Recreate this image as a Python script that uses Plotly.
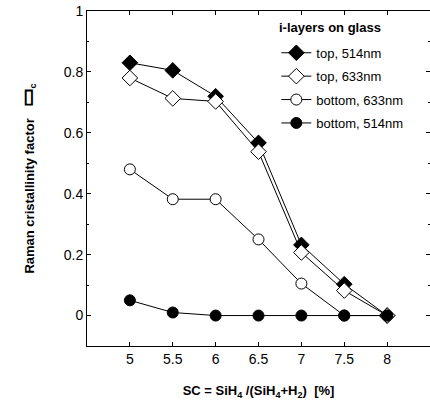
import plotly.graph_objects as go

sc = [5, 5.5, 6, 6.5, 7, 7.5, 8]
top_514 = [0.83, 0.805, 0.72, 0.567, 0.232, 0.103, 0.0]
top_633 = [0.78, 0.713, 0.703, 0.538, 0.207, 0.082, 0.0]
bottom_633 = [0.48, 0.382, 0.382, 0.25, 0.105, 0.0, 0.0]
bottom_514 = [0.05, 0.01, 0.0, 0.0, 0.0, 0.0, 0.0]
y_ticks = [0, 0.2, 0.4, 0.6, 0.8, 1]
x_ticks = [5, 5.5, 6, 6.5, 7, 7.5, 8]

series = [
    ("top, 514nm", top_514, "diamond", "black", 12),
    ("top, 633nm", top_633, "diamond", "white", 12),
    ("bottom, 633nm", bottom_633, "circle", "white", 11),
    ("bottom, 514nm", bottom_514, "circle", "black", 11),
]

fig = go.Figure()
for i, (name, ys, sym, fill, size) in enumerate(series):
    fig.add_trace(go.Scatter(
        x=sc, y=ys, name=name, mode="lines+markers", legendgroup=f"g{i}",
        line=dict(color="black", width=1),
        marker=dict(symbol=sym, size=size, color=fill,
                    line=dict(color="black", width=1)),
        cliponaxis=False,
    ))

font = "Liberation Sans, Arial, sans-serif"
fig.add_annotation(
    text="<b>i-layers on glass</b>", xref="paper", yref="paper",
    x=0.553, y=0.95, xanchor="left", yanchor="middle", showarrow=False,
    font=dict(size=13),
)
fig.update_layout(
    width=430, height=400,
    margin=dict(l=87, r=0, t=11, b=54),
    paper_bgcolor="white", plot_bgcolor="white",
    font=dict(family=font, size=13, color="black"),
    showlegend=True,
    legend=dict(
        x=0.552, y=0.92, xanchor="left", yanchor="top",
        bgcolor="rgba(0,0,0,0)",
        font=dict(size=13), tracegroupgap=3.5, itemwidth=30,
    ),
    xaxis=dict(
        range=[4.5, 8.5], tickvals=x_ticks, ticktext=[str(v) for v in x_ticks],
        ticks="inside", ticklen=4, tickcolor="black", showgrid=False,
        zeroline=False, showline=True, linecolor="black", linewidth=1,
        mirror="allticks", tickfont=dict(size=14),
        title=dict(text="<b>SC = SiH<sub>4</sub> /(SiH<sub>4</sub>+H<sub>2</sub>)  [%]</b>",
                   font=dict(size=13), standoff=20),
    ),
    yaxis=dict(
        range=[-0.1, 1], tickvals=y_ticks,
        ticks="inside", ticklen=4, tickcolor="black", showgrid=False,
        zeroline=False, showline=True, linecolor="black", linewidth=1,
        mirror="allticks", tickfont=dict(size=14),
        minor=dict(ticks="inside", dtick=0.1, tick0=0, ticklen=2, tickcolor="black"),
        title=dict(text="<b>Raman cristallinity factor   <span style='font-size:20px'>\u25ad</span><sub>c</sub></b>",
                   font=dict(size=13), standoff=26),
    ),
)

fig.write_html("out.html", config={"displayModeBar": False},
               post_script="document.body.style.margin='0px';document.body.style.overflow='hidden';")
